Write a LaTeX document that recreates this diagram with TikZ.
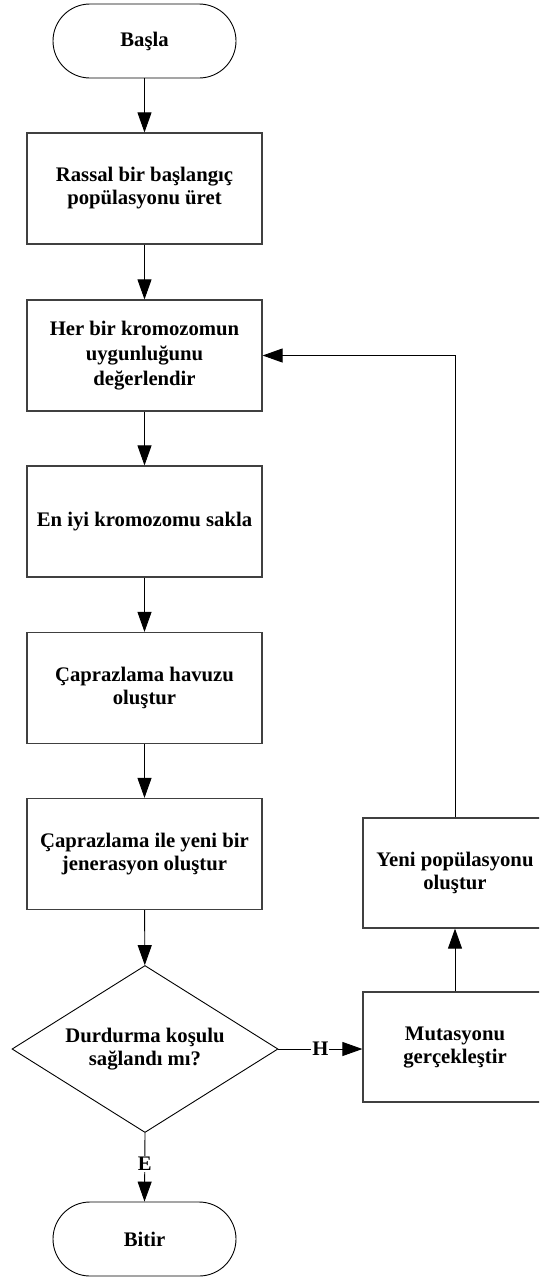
\documentclass[tikz,border=0pt]{standalone}
\usepackage{fontspec}
\setmainfont{Liberation Serif}
\usetikzlibrary{arrows.meta,shapes.geometric}
\begin{document}
\begin{tikzpicture}[x=1pt,y=-1pt,
  txt/.style={font=\fontsize{20.7}{23}\selectfont\bfseries, align=center},
  term/.style={txt, draw=black, line width=0.9pt, rounded corners=37pt, minimum width=183pt, minimum height=74pt, inner sep=0pt},
  procbox/.style={txt, draw=black!75, line width=1.2pt, minimum width=235pt, minimum height=111pt, inner sep=0pt},
  sidebox/.style={txt, draw=black!75, line width=1.2pt, minimum width=184pt, minimum height=110pt, inner sep=0pt},
  dec/.style={txt, draw=black, line width=0.9pt, diamond, aspect=1.6, minimum width=266pt, minimum height=167pt, inner sep=0pt},
  conn/.style={draw=black, line width=0.9pt, -{Triangle[length=20pt,width=14pt]}},
  lbl/.style={font=\fontsize{20.7}{23}\selectfont\bfseries, fill=white, inner sep=1pt}
]
\clip (0,0) rectangle (539,1277);
\fill[white] (0,0) rectangle (539,1277);
\node[term] (start) at (144.5,41) {Başla};
\node[procbox] (b1) at (144.5,188.5) {Rassal bir başlangıç\\popülasyonu üret};
\node[procbox, font=\fontsize{20.7}{25}\selectfont\bfseries] (b2) at (144.5,355.5) {Her bir kromozomun\\uygunluğunu\\değerlendir};
\node[procbox] (b3) at (144.5,521.5) {En iyi kromozomu sakla};
\node[procbox] (b4) at (144.5,688) {Çaprazlama havuzu\\oluştur};
\node[procbox] (b5) at (144.5,854) {Çaprazlama ile yeni bir\\jenerasyon oluştur};
\node[dec] (d) at (145,1049) {Durdurma koşulu\\sağlandı mı?};
\node[term] (end) at (144.5,1239) {Bitir};
\node[sidebox] (mut) at (455,1047) {Mutasyonu\\gerçekleştir};
\node[sidebox] (yeni) at (455,873) {Yeni popülasyonu\\oluştur};

\draw[conn] (start) -- (b1);
\draw[conn] (b1) -- (b2);
\draw[conn] (b2) -- (b3);
\draw[conn] (b3) -- (b4);
\draw[conn] (b4) -- (b5);
\draw[conn] (b5) -- (d);
\draw[conn] (d.south) -- node[lbl, pos=0.45] (e) {E} (end.north);
\draw[conn] (d.east) -- node[lbl, pos=0.5] (h) {H} (d.east -| mut.west);
\draw[conn] (mut) -- (yeni);
\draw[conn] (yeni.north) |- (b2.east);
\end{tikzpicture}
\end{document}
